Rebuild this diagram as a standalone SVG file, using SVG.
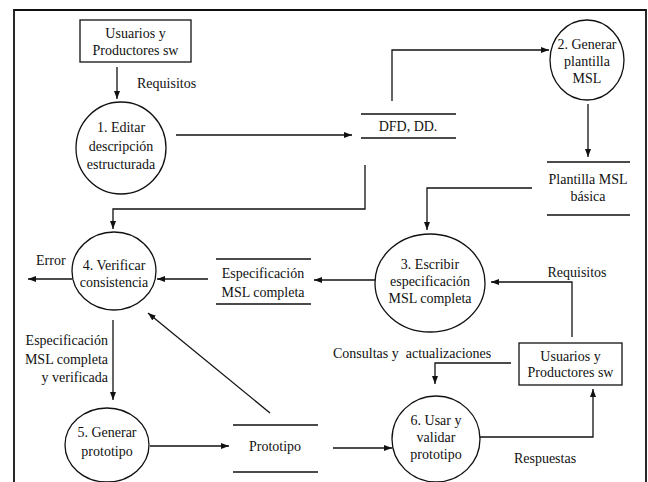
<svg xmlns="http://www.w3.org/2000/svg" width="648" height="482" viewBox="0 0 648 482">
  <style>
    .ln { fill: none; stroke: #111; stroke-width: 1.3; }
    .shape { fill: #fff; stroke: #111; stroke-width: 1.3; }
    .frame { fill: none; stroke: #111; stroke-width: 1.8; }
    text { font-family: "Liberation Serif", "Times New Roman", serif; font-size: 14px; fill: #111; }
    .c { text-anchor: middle; }
    .r { text-anchor: end; }
    .pre { white-space: pre; }
  </style>
  <defs>
    <marker id="arr" viewBox="0 0 8 6" refX="8" refY="3" markerWidth="8" markerHeight="6" markerUnits="userSpaceOnUse" orient="auto">
      <path d="M0,0 L8,3 L0,6 Z" fill="#111"/>
    </marker>
  </defs>

  <rect width="648" height="482" fill="#fff"/>
  <path class="frame" d="M14,482 V10 H646 V482"/>

  <!-- external entity: top -->
  <g id="ext-top">
    <rect class="shape" x="80" y="20" width="111" height="42"/>
    <text class="c" x="135.5" y="38">Usuarios y</text>
    <text class="c" x="135.5" y="55">Productores sw</text>
  </g>

  <!-- process 1 -->
  <g id="p1">
    <ellipse class="shape" cx="121" cy="148" rx="45" ry="46"/>
    <text class="c" x="121" y="132">1. Editar</text>
    <text class="c" x="121" y="151">descripción</text>
    <text class="c" x="121" y="169">estructurada</text>
  </g>

  <!-- store: DFD, DD. -->
  <g id="s-dfd">
    <path class="ln" d="M361,114 H456 M361,138 H456"/>
    <text class="c" x="408" y="131">DFD, DD.</text>
  </g>

  <!-- process 2 -->
  <g id="p2">
    <ellipse class="shape" cx="587" cy="60" rx="37" ry="40"/>
    <text class="c" x="587" y="49">2. Generar</text>
    <text class="c" x="587" y="66">plantilla</text>
    <text class="c" x="587" y="83">MSL</text>
  </g>

  <!-- store: Plantilla MSL básica -->
  <g id="s-plantilla">
    <path class="ln" d="M547,162 H630 M547,215 H630"/>
    <text class="c" x="588" y="184">Plantilla MSL</text>
    <text class="c" x="588" y="201">básica</text>
  </g>

  <!-- process 3 -->
  <g id="p3">
    <ellipse class="shape" cx="430" cy="283" rx="55" ry="49"/>
    <text class="c" x="430" y="269">3. Escribir</text>
    <text class="c" x="430" y="286">especificación</text>
    <text class="c" x="430" y="303">MSL completa</text>
  </g>

  <!-- store: Especificación MSL completa -->
  <g id="s-espec">
    <path class="ln" d="M216,259 H311 M216,304 H311"/>
    <text class="c" x="263" y="278">Especificación</text>
    <text class="c" x="263" y="297">MSL completa</text>
  </g>

  <!-- process 4 -->
  <g id="p4">
    <ellipse class="shape" cx="114" cy="271" rx="42" ry="39"/>
    <text class="c" x="114" y="270">4. Verificar</text>
    <text class="c" x="114" y="287">consistencia</text>
  </g>

  <!-- process 5 -->
  <g id="p5">
    <ellipse class="shape" cx="107" cy="445" rx="42" ry="37"/>
    <text class="c" x="107" y="437">5. Generar</text>
    <text class="c" x="107" y="456">prototipo</text>
  </g>

  <!-- store: Prototipo -->
  <g id="s-prototipo">
    <path class="ln" d="M233,425 H318 M233,472 H318"/>
    <text class="c" x="275" y="451">Prototipo</text>
  </g>

  <!-- process 6 -->
  <g id="p6">
    <ellipse class="shape" cx="436" cy="439" rx="44" ry="43"/>
    <text class="c" x="436" y="425">6. Usar y</text>
    <text class="c" x="436" y="442">validar</text>
    <text class="c" x="436" y="459">prototipo</text>
  </g>

  <!-- external entity: bottom right -->
  <g id="ext-bottom">
    <rect class="shape" x="519" y="343" width="103" height="42"/>
    <text class="c" x="570.5" y="361">Usuarios y</text>
    <text class="c" x="570.5" y="377">Productores sw</text>
  </g>

  <!-- data flows -->
  <g id="flows">
    <path class="ln" d="M117,67 V99" marker-end="url(#arr)"/>
    <path class="ln" d="M176,135 H352" marker-end="url(#arr)"/>
    <path class="ln" d="M392,101 V50 H549" marker-end="url(#arr)"/>
    <path class="ln" d="M588,104 V157" marker-end="url(#arr)"/>
    <path class="ln" d="M532,188 H427 V230" marker-end="url(#arr)"/>
    <path class="ln" d="M365,165 V209 H113 V229" marker-end="url(#arr)"/>
    <path class="ln" d="M375,280 H314" marker-end="url(#arr)"/>
    <path class="ln" d="M208,279 H157" marker-end="url(#arr)"/>
    <path class="ln" d="M72,279 H28" marker-end="url(#arr)"/>
    <path class="ln" d="M113,320 V400" marker-end="url(#arr)"/>
    <path class="ln" d="M150,446 H229" marker-end="url(#arr)"/>
    <path class="ln" d="M270,413 L148,313" marker-end="url(#arr)"/>
    <path class="ln" d="M333,448 H392" marker-end="url(#arr)"/>
    <path class="ln" d="M480,437 H593 V389" marker-end="url(#arr)"/>
    <path class="ln" d="M511,363 H435 V384" marker-end="url(#arr)"/>
    <path class="ln" d="M572,337 V282 H491" marker-end="url(#arr)"/>

    <text x="137" y="88">Requisitos</text>
    <text x="36" y="265">Error</text>
    <text class="r" x="108" y="345">Especificación</text>
    <text class="r" x="108" y="364">MSL completa</text>
    <text class="r" x="108" y="382">y verificada</text>
    <text x="577" y="277" class="c">Requisitos</text>
    <text class="pre" x="333" y="358">Consultas y  actualizaciones</text>
    <text class="c" x="545" y="463">Respuestas</text>
  </g>
</svg>
